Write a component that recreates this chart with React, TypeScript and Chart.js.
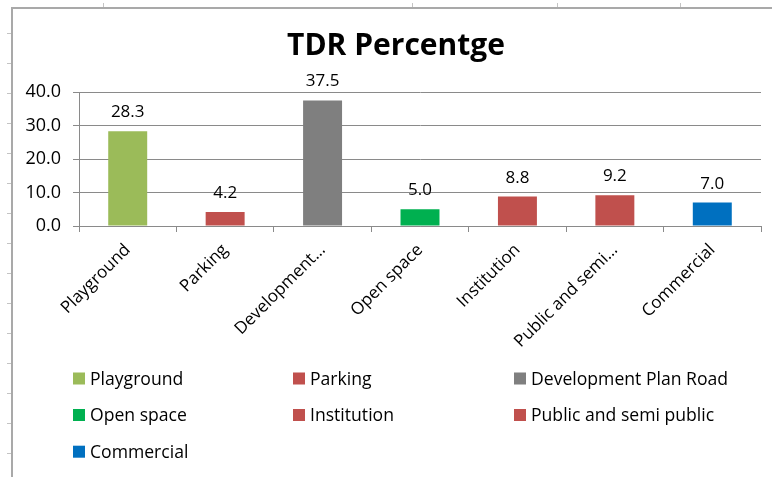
import React, { useEffect, useRef } from "react";
import { Chart, registerables } from "chart.js";

Chart.register(...registerables);

const chartTitle = "TDR Percentge";
const categories = [
  "Playground",
  "Parking",
  "Development Plan Road",
  "Open space",
  "Institution",
  "Public and semi public",
  "Commercial",
];
const tickLabels = [
  "Playground",
  "Parking",
  "Development…",
  "Open space",
  "Institution",
  "Public and semi…",
  "Commercial",
];
const values = [28.3, 4.2, 37.5, 5.0, 8.8, 9.2, 7.0];
const barColors = ["#9BBB59", "#C0504D", "#7F7F7F", "#00B050", "#C0504D", "#C0504D", "#0070C0"];
const yTicks = [0, 10, 20, 30, 40];

const FONT = "'Open Sans', 'Noto Sans', sans-serif";
const GRID = "#8a8a8a";

const titlePlugin = {
  id: "titleText",
  afterDraw(chart: any) {
    const ctx = chart.ctx;
    ctx.save();
    ctx.font = `bold 30px ${FONT}`;
    ctx.fillStyle = "#000";
    ctx.textAlign = "center";
    ctx.textBaseline = "alphabetic";
    ctx.fillText(chartTitle, 396, 55);
    ctx.restore();
  },
};

const valueLabels = {
  id: "valueLabels",
  afterDatasetsDraw(chart: any) {
    const ctx = chart.ctx;
    const meta = chart.getDatasetMeta(0);
    ctx.save();
    ctx.font = `17px ${FONT}`;
    ctx.fillStyle = "#000";
    ctx.textAlign = "center";
    ctx.textBaseline = "alphabetic";
    meta.data.forEach((bar: any, i: number) => {
      ctx.fillText(values[i].toFixed(1), bar.x, bar.y - 14);
    });
    ctx.restore();
  },
};

const gridLegend = {
  id: "gridLegend",
  afterDraw(chart: any) {
    const ctx = chart.ctx;
    const colX = [73, 293, 514];
    const rowY = [378.5, 415, 451.7];
    ctx.save();
    ctx.font = `17.6px ${FONT}`;
    ctx.textAlign = "left";
    ctx.textBaseline = "middle";
    categories.forEach((name, i) => {
      const c = i % 3;
      const r = Math.floor(i / 3);
      ctx.fillStyle = barColors[i];
      ctx.fillRect(colX[c], rowY[r] - 6, 12, 12);
      ctx.fillStyle = "#000";
      ctx.fillText(name, colX[c] + 17, rowY[r] + 1);
    });
    ctx.restore();
  },
};

export default function App() {
  const ref = useRef<HTMLCanvasElement>(null);

  useEffect(() => {
    if (!ref.current) return;
    const chart = new Chart(ref.current, {
      type: "bar",
      data: {
        labels: tickLabels,
        datasets: [
          {
            data: values,
            backgroundColor: barColors,
            borderWidth: 0,
            barPercentage: 0.4,
            categoryPercentage: 1,
          },
        ],
      },
      options: {
        responsive: false,
        animation: false,
        devicePixelRatio: 1,
        layout: { padding: { left: 13, right: 11, top: 92, bottom: 120 } },
        plugins: {
          legend: { display: false },
          tooltip: { enabled: false },
          title: { display: false },
        },
        scales: {
          x: {
            grid: { drawOnChartArea: false, drawTicks: true, tickLength: 6, offset: true, color: GRID },
            border: { color: GRID },
            ticks: {
              autoSkip: false,
              minRotation: 45,
              maxRotation: 45,
              color: "#000",
              padding: 8,
              font: { family: FONT, size: 17 },
            },
            afterFit: (s: any) => {
              s.height = 131;
            },
          },
          y: {
            min: 0,
            max: 40,
            afterBuildTicks: (s: any) => {
              s.ticks = yTicks.map((v) => ({ value: v }));
            },
            ticks: {
              color: "#000",
              padding: 12,
              font: { family: FONT, size: 18 },
              callback: (v: any) => Number(v).toFixed(1),
            },
            grid: { color: GRID, tickLength: 6 },
            border: { color: GRID },
            afterFit: (s: any) => {
              s.width = 66;
            },
          },
        },
      },
      plugins: [valueLabels, gridLegend, titlePlugin],
    } as any);
    return () => chart.destroy();
  }, []);

  const rowTicks = Array.from({ length: 15 }, (_, k) => 33 + 30 * k);
  const colTicks = [103, 412, 557, 680];

  return (
    <div style={{ position: "fixed", left: 0, top: 0, width: 772, height: 477, background: "#fff", overflow: "hidden" }}>
      {rowTicks.map((y) => (
        <div key={"r" + y} style={{ position: "absolute", left: 7, top: y, width: 4, height: 1, background: "#c4c4c4" }} />
      ))}
      {colTicks.map((x) => (
        <div key={"c" + x} style={{ position: "absolute", left: x, top: 3, width: 1, height: 4, background: "#c4c4c4" }} />
      ))}
      <div
        style={{
          position: "absolute",
          left: 11,
          top: 7,
          width: 800,
          height: 500,
          borderLeft: "2px solid #a9a9a9",
          borderTop: "2px solid #a9a9a9",
        }}
      />
      <canvas ref={ref} width={772} height={477} style={{ position: "absolute", left: 0, top: 0 }} />
    </div>
  );
}
